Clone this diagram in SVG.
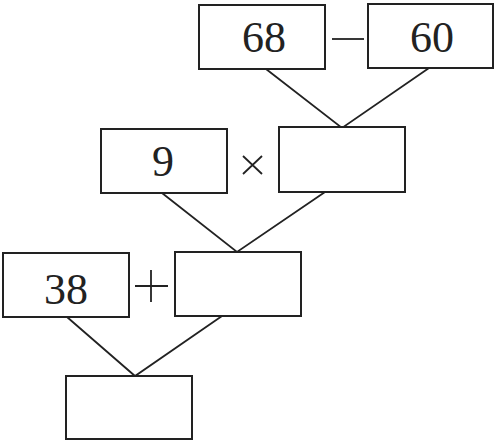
<svg xmlns="http://www.w3.org/2000/svg" width="499" height="444" viewBox="0 0 499 444">
<style>
.box{fill:#fff;stroke:#222;stroke-width:2}
.ln{stroke:#222;stroke-width:1.8;fill:none}
.t{font-family:"Liberation Serif","Times New Roman",serif;font-size:44px;fill:#222;text-anchor:middle}
</style>
<rect width="499" height="444" fill="#fff"/>
<g id="connectors">
<path class="ln" d="M266 69 L342 128 L429 68"/>
<path class="ln" d="M162 193 L237 252 L325 192"/>
<path class="ln" d="M67 317 L135 376 L222 316"/>
</g>
<g id="operators">
<line class="ln" x1="332" y1="39" x2="364" y2="39" stroke-width="2.4"/>
<path class="ln" d="M243 156 L262 174 M262 156 L243 174" stroke-width="2.4"/>
<path class="ln" d="M135 286 L168 286 M151 270 L151 302" stroke-width="2.4"/>
</g>
<g id="n68"><rect class="box" x="199" y="5" width="126" height="64"/><text class="t" x="264" y="52">68</text></g>
<g id="n60"><rect class="box" x="368" y="4" width="125" height="64"/><text class="t" x="432" y="52">60</text></g>
<g id="n9"><rect class="box" x="101" y="129" width="126" height="64"/><text class="t" x="163" y="176">9</text></g>
<g id="nDiff"><rect class="box" x="279" y="127" width="126" height="65"/></g>
<g id="n38"><rect class="box" x="3" y="253" width="126" height="64"/><text class="t" x="66" y="304">38</text></g>
<g id="nProd"><rect class="box" x="175" y="252" width="126" height="64"/></g>
<g id="nSum"><rect class="box" x="66" y="376" width="126" height="63"/></g>
</svg>
